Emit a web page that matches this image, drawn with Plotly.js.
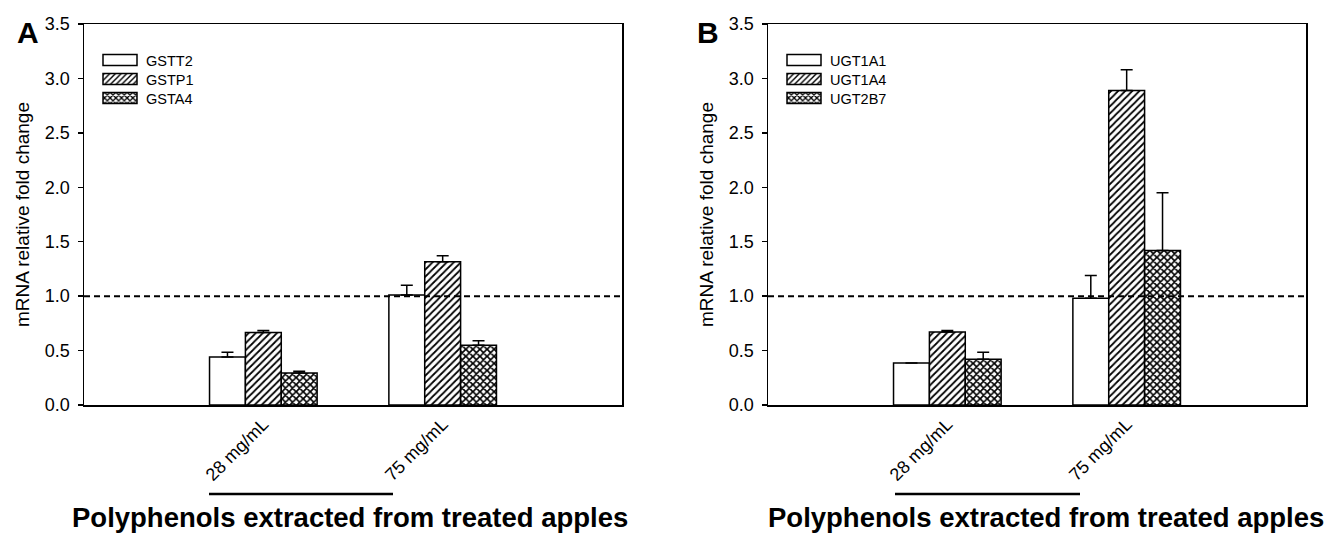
<!DOCTYPE html>
<html>
<head>
<meta charset="utf-8">
<script src="https://cdn.plot.ly/plotly-3.0.1.min.js"></script>
<style>html,body{margin:0;padding:0;background:#fff;}</style>
</head>
<body>
<div id="chart" style="width:1334px;height:535px;"></div>
<script>
// ---- data ----
const categories = ['28 mg/mL', '75 mg/mL'];

const seriesA = ['GSTT2', 'GSTP1', 'GSTA4'];
const gstt2 = [0.44, 1.01];
const gstt2Err = [0.045, 0.09];
const gstp1 = [0.665, 1.315];
const gstp1Err = [0.02, 0.055];
const gsta4 = [0.295, 0.55];
const gsta4Err = [0.015, 0.04];

const seriesB = ['UGT1A1', 'UGT1A4', 'UGT2B7'];
const ugt1a1 = [0.385, 0.98];
const ugt1a1Err = [0, 0.21];
const ugt1a4 = [0.67, 2.89];
const ugt1a4Err = [0.015, 0.19];
const ugt2b7 = [0.42, 1.42];
const ugt2b7Err = [0.065, 0.53];

const yTicks = [0, 0.5, 1, 1.5, 2, 2.5, 3, 3.5];
const refLevel = 1.0;
const xTitle = 'Polyphenols extracted from treated apples';
const yTitle = 'mRNA relative fold change';

// ---- styling ----
const FONT = 'Liberation Sans, Arial, Helvetica, sans-serif';
const W = 1334, H = 535;
const px = v => v / W;
const py = v => 1 - v / H;

const patterns = [
  {shape: '', bgcolor: 'white', fgcolor: 'black'},
  {shape: '/', bgcolor: 'white', fgcolor: 'black', size: 5, solidity: 0.35},
  {shape: 'x', bgcolor: 'white', fgcolor: 'black', size: 5, solidity: 0.55}
];

function mkTrace(name, y, err, idx, xa, ya, legend) {
  return {
    type: 'bar', name: name, x: categories, y: y,
    xaxis: xa, yaxis: ya, legend: legend,
    marker: {color: 'white', line: {color: 'black', width: 1.5}, pattern: patterns[idx]},
    error_y: {type: 'data', symmetric: false, array: err, arrayminus: err.map(() => 0),
              color: 'black', thickness: 1.5, width: 6, visible: true},
    hoverinfo: 'skip'
  };
}

const data = [
  mkTrace(seriesA[0], gstt2, gstt2Err, 0, 'x', 'y', 'legend'),
  mkTrace(seriesA[1], gstp1, gstp1Err, 1, 'x', 'y', 'legend'),
  mkTrace(seriesA[2], gsta4, gsta4Err, 2, 'x', 'y', 'legend'),
  mkTrace(seriesB[0], ugt1a1, ugt1a1Err, 0, 'x2', 'y2', 'legend2'),
  mkTrace(seriesB[1], ugt1a4, ugt1a4Err, 1, 'x2', 'y2', 'legend2'),
  mkTrace(seriesB[2], ugt2b7, ugt2b7Err, 2, 'x2', 'y2', 'legend2')
];

const domA = [px(84), px(622)];
const domB = [px(768), px(1306)];
const domY = [py(405), py(24)];

function xAxis(dom, anchor) {
  return {
    domain: dom, anchor: anchor, type: 'category', range: [-1, 2],
    showline: true, linecolor: 'black', linewidth: 1.5, mirror: true,
    ticks: '', showgrid: false, zeroline: false, tickangle: -45,
    tickfont: {family: FONT, size: 18, color: 'black'}, fixedrange: true
  };
}
function yAxis(anchor) {
  return {
    domain: domY, anchor: anchor, range: [0, 3.5], tickvals: yTicks, tickformat: '.1f',
    showline: true, linecolor: 'black', linewidth: 1.5, mirror: true,
    ticks: 'outside', ticklen: 5, tickwidth: 1.5, tickcolor: 'black',
    ticklabelstandoff: 4,
    showgrid: false, zeroline: false,
    tickfont: {family: FONT, size: 18, color: 'black'},
    title: {text: yTitle, font: {family: FONT, size: 19, color: 'black'}, standoff: 10},
    fixedrange: true
  };
}

function legendCfg(xPix) {
  return {
    x: px(xPix), y: py(44), xanchor: 'left', yanchor: 'top',
    bgcolor: 'rgba(0,0,0,0)', borderwidth: 0, itemwidth: 39,
    font: {family: FONT, size: 14.5, color: 'black'},
    tracegroupgap: 0, itemclick: false, itemdoubleclick: false
  };
}

const shapes = [
  {type: 'line', xref: 'x domain', yref: 'y', x0: 0, x1: 1, y0: refLevel, y1: refLevel,
   line: {color: 'black', width: 2, dash: '6px,4px'}},
  {type: 'line', xref: 'x2 domain', yref: 'y2', x0: 0, x1: 1, y0: refLevel, y1: refLevel,
   line: {color: 'black', width: 2, dash: '6px,4px'}},
  {type: 'line', xref: 'paper', yref: 'paper', x0: px(209), x1: px(393), y0: py(494), y1: py(494),
   line: {color: 'black', width: 2.5}},
  {type: 'line', xref: 'paper', yref: 'paper', x0: px(895), x1: px(1080), y0: py(494), y1: py(494),
   line: {color: 'black', width: 2.5}}
];

function ann(text, x, y, size) {
  return {text: text, xref: 'paper', yref: 'paper', x: px(x), y: py(y),
          xanchor: 'center', yanchor: 'middle', showarrow: false,
          font: {family: FONT, size: size, color: 'black'}};
}

const annotations = [
  ann('<b>A</b>', 28, 32, 30),
  ann('<b>B</b>', 708, 32, 30),
  ann('<b>' + xTitle + '</b>', 350, 517, 27.5),
  ann('<b>' + xTitle + '</b>', 1046, 517, 27.5)
];

const layout = {
  width: W, height: H,
  margin: {l: 0, r: 0, t: 0, b: 0},
  paper_bgcolor: 'white', plot_bgcolor: 'white',
  barmode: 'group', bargap: 0.4, bargroupgap: 0,
  showlegend: true,
  xaxis: xAxis(domA, 'y'), yaxis: yAxis('x'),
  xaxis2: xAxis(domB, 'y2'), yaxis2: yAxis('x2'),
  legend: legendCfg(97), legend2: legendCfg(781),
  shapes: shapes, annotations: annotations,
  font: {family: FONT, color: 'black'}
};

// Wide, short legend swatches (34 x 11), as in the original figure; rows 19px apart
function tweakLegend() {
  const root = document.getElementById('chart');
  root.querySelectorAll('g.infolayer > g').forEach(lg => {
    const items = lg.querySelectorAll('g.traces');
    if (!items.length) return;
    items.forEach(t => {
      t.querySelectorAll('.legendpoints path').forEach(p => p.setAttribute('d', 'M15.5,5.5H-18.5V-5.5H15.5Z'));
    });
    const m0 = /translate\(\s*([-\d.]+)[ ,]+([-\d.]+)/.exec(items[0].getAttribute('transform') || '');
    if (m0) {
      const y0 = parseFloat(m0[2]);
      items.forEach((t, i) => t.setAttribute('transform', 'translate(' + m0[1] + ',' + (y0 + 19 * i) + ')'));
    }
  });
}

Plotly.newPlot('chart', data, layout, {staticPlot: true, displayModeBar: false}).then(() => {
  tweakLegend();
  requestAnimationFrame(tweakLegend);
  setTimeout(tweakLegend, 50);
});
</script>
</body>
</html>
